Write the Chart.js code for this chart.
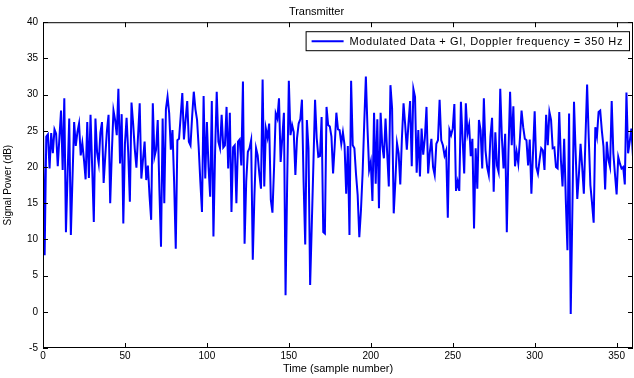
<!DOCTYPE html>
<html>
<head>
<meta charset="utf-8">
<title>Transmitter</title>
<script src="https://cdn.jsdelivr.net/npm/chart.js@4/dist/chart.umd.min.js"></script>
<style>
    html, body { margin: 0; padding: 0; background: #fff; }
    #chart1 { display: block; }
</style>
</head>
<body>
<canvas id="chart1" width="634" height="378"></canvas>
<script>
const chart1div = document.getElementById("chart1")

// values, one per sample (0..360)
const signalPower = [
    25.8, 7.8, 24.2, 24.5, 19.8, 24.7, 21.9, 25.2, 24.6, 20.1,
    24.0, 27.8, 19.6, 29.5, 11.0, 19.0, 26.7, 10.6, 18.5, 26.2,
    22.9, 24.8, 26.0, 21.6, 23.3, 21.0, 18.3, 26.2, 18.5, 27.2,
    20.0, 12.4, 26.7, 22.0, 20.5, 24.7, 26.2, 17.8, 21.5, 25.0,
    27.2, 15.0, 22.0, 27.8, 26.5, 24.4, 30.8, 20.5, 27.3, 12.2,
    23.2, 26.8, 22.0, 15.2, 28.9, 26.0, 22.5, 19.9, 24.3, 28.8,
    18.4, 21.0, 23.5, 18.2, 20.2, 16.0, 12.7, 28.8, 21.4, 22.4,
    26.5, 17.0, 9.0, 26.7, 15.0, 28.0, 29.7, 27.4, 22.4, 25.1,
    18.0, 8.7, 23.7, 23.9, 27.0, 30.2, 23.8, 26.5, 29.1, 23.5,
    23.0, 27.0, 30.4, 28.0, 26.5, 22.7, 18.0, 13.8, 29.8, 18.4,
    26.2, 20.0, 15.9, 29.1, 10.4, 22.0, 30.4, 23.5, 22.6, 27.2,
    22.7, 23.0, 28.3, 19.8, 27.5, 13.8, 22.7, 23.0, 15.0, 23.5,
    23.8, 20.2, 31.8, 9.4, 18.0, 22.1, 22.6, 23.7, 7.2, 16.0,
    22.6, 21.6, 19.0, 17.0, 32.1, 17.3, 25.3, 24.1, 26.0, 15.5,
    13.7, 20.0, 27.4, 26.7, 29.5, 20.7, 24.0, 27.5, 2.3, 18.0,
    31.9, 24.4, 25.8, 24.8, 18.9, 24.0, 26.0, 26.6, 29.3, 18.0,
    9.3, 26.5, 22.6, 3.7, 12.0, 20.5, 29.3, 24.0, 21.4, 21.5,
    26.9, 11.0, 10.8, 28.3, 25.8, 25.6, 24.2, 19.1, 23.0, 27.5,
    25.2, 25.1, 23.2, 24.8, 23.0, 16.3, 22.9, 10.6, 31.9, 23.0,
    22.6, 19.0, 16.1, 10.3, 14.0, 19.1, 26.0, 32.5, 25.3, 19.6,
    20.7, 15.3, 27.5, 17.7, 26.6, 14.3, 27.5, 23.0, 21.2, 26.7,
    22.0, 17.3, 31.3, 28.1, 13.6, 18.0, 23.3, 21.9, 17.6, 24.0,
    28.8, 25.8, 22.4, 26.0, 29.1, 20.1, 30.8, 29.7, 19.2, 25.1,
    18.7, 25.3, 21.7, 24.0, 28.3, 19.1, 22.0, 23.9, 20.0, 18.9,
    23.2, 23.7, 29.3, 23.7, 23.0, 21.6, 22.3, 13.0, 25.1, 24.4,
    25.3, 28.7, 16.7, 18.0, 16.7, 29.0, 24.0, 19.1, 28.8, 24.6,
    25.8, 21.5, 23.9, 11.5, 22.6, 17.0, 26.5, 25.1, 19.8, 29.5,
    22.3, 20.0, 18.9, 24.2, 26.8, 16.6, 24.8, 20.2, 19.3, 30.8,
    24.0, 19.8, 24.6, 11.0, 22.0, 30.4, 23.0, 28.4, 20.1, 22.1,
    20.5, 23.9, 27.8, 25.5, 23.9, 23.7, 20.2, 23.8, 16.3, 22.0,
    27.7, 20.0, 19.1, 21.0, 22.6, 22.3, 19.6, 27.2, 23.0, 27.6,
    26.5, 22.6, 22.7, 20.0, 19.8, 27.6, 21.0, 17.3, 23.9, 15.4,
    8.5, 27.4, -0.3, 14.0, 29.0, 22.0, 15.6, 19.0, 23.2, 20.0,
    16.3, 24.0, 31.4, 24.0, 17.5, 15.0, 12.3, 25.5, 24.2, 27.6,
    27.8, 25.0, 22.8, 16.9, 23.5, 21.0, 20.0, 29.1, 21.9, 19.0,
    16.2, 21.4, 20.5, 19.8, 20.0, 17.6, 30.3, 21.9, 23.5, 25.3,
    21.4
]
const xTicks = [0, 50, 100, 150, 200, 250, 300, 350]
const yTicks = [-5, 0, 5, 10, 15, 20, 25, 30, 35, 40]
const legendText = "Modulated Data + GI, Doppler frequency = 350 Hz"

const fontFamily = "'Liberation Sans', Arial, Helvetica, sans-serif"
const points = signalPower.map((v, i) => ({ x: i, y: v }))

// matlab style box, inward ticks and legend
const matlabFrame = {
    id: "matlabFrame",
    afterDraw(chart) {
        const { ctx, chartArea: a, scales: { x, y } } = chart
        ctx.save()
        ctx.strokeStyle = "#000"
        ctx.lineWidth = 1
        ctx.strokeRect(a.left + 0.5, a.top + 0.5, a.right - a.left - 1, a.bottom - a.top - 1)
        ctx.beginPath()
        xTicks.forEach(v => {
            const px = Math.round(x.getPixelForValue(v)) + 0.5
            ctx.moveTo(px, a.bottom); ctx.lineTo(px, a.bottom - 5)
            ctx.moveTo(px, a.top); ctx.lineTo(px, a.top + 5)
        })
        yTicks.forEach(v => {
            const py = Math.round(y.getPixelForValue(v)) + 0.5
            ctx.moveTo(a.left, py); ctx.lineTo(a.left + 5, py)
            ctx.moveTo(a.right, py); ctx.lineTo(a.right - 5, py)
        })
        ctx.stroke()

        // legend box, top right inside the axes
        ctx.font = "11px " + fontFamily
        ctx.letterSpacing = "0.6px"
        const tw = ctx.measureText(legendText).width
        const right = a.right - 4
        const left = right - tw - 50
        const top = a.top + 9
        ctx.fillStyle = "#fff"
        ctx.fillRect(left, top, right - left, 19)
        ctx.strokeRect(left + 0.5, top + 0.5, right - left, 19)
        ctx.strokeStyle = "#0000ff"
        ctx.lineWidth = 2
        ctx.beginPath()
        ctx.moveTo(left + 6, top + 10); ctx.lineTo(left + 38, top + 10)
        ctx.stroke()
        ctx.fillStyle = "#000"
        ctx.textBaseline = "middle"
        ctx.fillText(legendText, left + 44, top + 10.5)
        ctx.restore()
    }
}

new Chart(chart1div, {
    type: "line",
    data: {
        datasets: [{
            label: legendText,
            data: points,
            borderColor: "#0000ff",
            borderWidth: 2,
            pointRadius: 0,
            tension: 0,
            fill: false
        }]
    },
    options: {
        responsive: false,
        animation: false,
        devicePixelRatio: 1,
        layout: { padding: { right: 1 } },
        plugins: {
            legend: { display: false },
            tooltip: { enabled: false },
            title: {
                display: true,
                text: "Transmitter",
                color: "#000",
                font: { family: fontFamily, size: 11, weight: "normal" },
                padding: { top: 5, bottom: 4 }
            }
        },
        scales: {
            x: {
                type: "linear",
                min: 0,
                max: 360,
                grid: { display: false, drawTicks: false },
                border: { display: false },
                afterBuildTicks: s => { s.ticks = xTicks.map(v => ({ value: v })) },
                afterFit: s => { s.height = 30 },
                ticks: { color: "#000", padding: 2, maxRotation: 0, font: { family: fontFamily, size: 10 } },
                title: {
                    display: true,
                    text: "Time (sample number)",
                    color: "#000",
                    padding: { top: 0, bottom: 2 },
                    font: { family: fontFamily, size: 11 }
                }
            },
            y: {
                min: -5,
                max: 40,
                grid: { display: false, drawTicks: false },
                border: { display: false },
                afterBuildTicks: s => { s.ticks = yTicks.map(v => ({ value: v })) },
                afterFit: s => { s.width = 43 },
                ticks: { color: "#000", padding: 5, font: { family: fontFamily, size: 10 } },
                title: {
                    display: true,
                    text: "Signal Power (dB)",
                    color: "#000",
                    padding: { top: 2, bottom: 0 },
                    font: { family: fontFamily, size: 10 }
                }
            }
        }
    },
    plugins: [matlabFrame]
})
</script>
</body>
</html>
